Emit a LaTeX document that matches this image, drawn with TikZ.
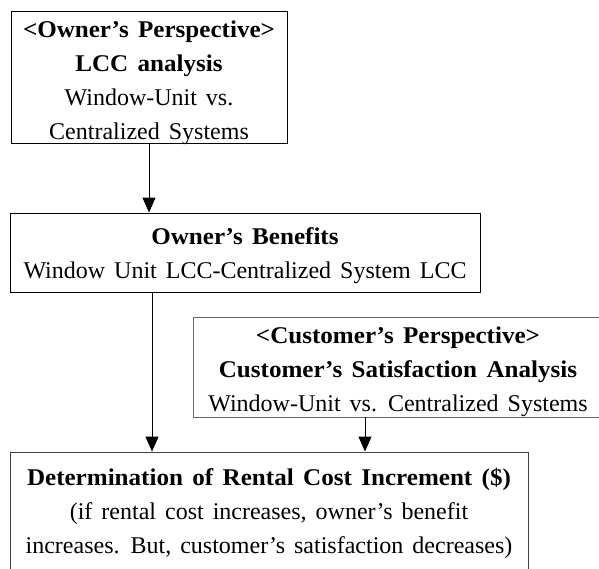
\documentclass[tikz,border=0pt]{standalone}
\usepackage{fontspec}
\setmainfont{Liberation Serif}[WordSpace=1.5, BoldFeatures={FakeStretch=1.045}]
\usetikzlibrary{arrows.meta}
\begin{document}
\begin{tikzpicture}[x=1pt,y=1pt,
  box/.style={draw, rectangle, inner sep=0pt, line width=0.9pt},
  txt/.style={inner sep=0pt, align=center, font=\fontsize{24}{34}\selectfont},
  arr/.style={draw=black, line width=1pt, -{Triangle[width=13pt,length=15pt]}}]
\useasboundingbox (0,0) rectangle (599,568);
\clip (0,0) rectangle (599,568);

% owner side
\node[box, minimum width=276pt, minimum height=132pt,
  label={[txt, yshift=-6pt]center:{\textbf{<Owner’s Perspective>}\\ \textbf{LCC analysis}\\ Window-Unit vs.\\ Centralized Systems}}]
  (lcc) at (149,491) {};
\node[box, minimum width=470pt, minimum height=79pt,
  label={[txt, yshift=-3pt]center:{\textbf{Owner’s Benefits}\\ Window Unit LCC-Centralized System LCC}}]
  (benefit) at (245,315.5) {};

% customer side
\node[box, draw=black!60, minimum width=410pt, minimum height=100pt,
  label={[txt, yshift=-5pt]center:{\textbf{<Customer’s Perspective>}\\ \textbf{Customer’s Satisfaction Analysis}\\ Window-Unit vs. Centralized Systems}}]
  (satis) at (398,201) {};

% result
\node[box, draw=black!75, minimum width=518pt, minimum height=122pt,
  label={[txt]center:{\textbf{Determination of Rental Cost Increment (\$)}\\ (if rental cost increases, owner’s benefit\\ increases. But, customer’s satisfaction decreases)}}]
  (rent) at (269,55) {};

% connectors
\draw[arr] (lcc.south) -- (lcc.south |- benefit.north);
\draw[arr] ([xshift=-93pt]benefit.south) -- ([xshift=-93pt]benefit.south |- rent.north);
\draw[arr] ([xshift=-33pt]satis.south) -- ([xshift=-33pt]satis.south |- rent.north);
\end{tikzpicture}
\end{document}
